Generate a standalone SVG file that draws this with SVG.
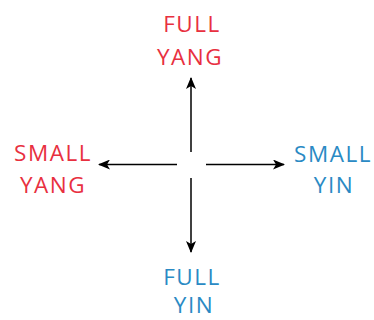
<svg xmlns="http://www.w3.org/2000/svg" width="374" height="320" viewBox="0 0 374 320">
<style>
text{font-family:"Open Sans","Liberation Sans",sans-serif;font-size:22.5px;font-weight:400;letter-spacing:1.5px;text-anchor:middle}
.yang{fill:#e8303f}
.yin{fill:#2a8ac4}
.c{stroke:#000;stroke-width:1.5;fill:none;marker-end:url(#ah)}
</style>
<defs>
<marker id="ah" viewBox="0 0 12 10" refX="11" refY="5" markerWidth="12" markerHeight="10" markerUnits="userSpaceOnUse" orient="auto">
<path d="M0,0 L12,5 L0,10 L3,5 Z" fill="#000"/>
</marker>
</defs>
<rect width="374" height="320" fill="#fff"/>
<g id="connectors">
<line class="c" x1="191" y1="152" x2="191" y2="78"/>
<line class="c" x1="177" y1="164.5" x2="99" y2="164.5"/>
<line class="c" x1="206" y1="164.5" x2="284" y2="164.5"/>
<line class="c" x1="191" y1="178" x2="191" y2="252"/>
</g>
<g id="full-yang"><text class="yang" x="192" y="32">FULL</text><text class="yang" x="190" y="65">YANG</text></g>
<g id="small-yang"><text class="yang" x="53" y="161">SMALL</text><text class="yang" x="53" y="193">YANG</text></g>
<g id="small-yin"><text class="yin" x="333" y="162">SMALL</text><text class="yin" x="334" y="193">YIN</text></g>
<g id="full-yin"><text class="yin" x="192" y="285">FULL</text><text class="yin" x="194" y="313">YIN</text></g>
</svg>
